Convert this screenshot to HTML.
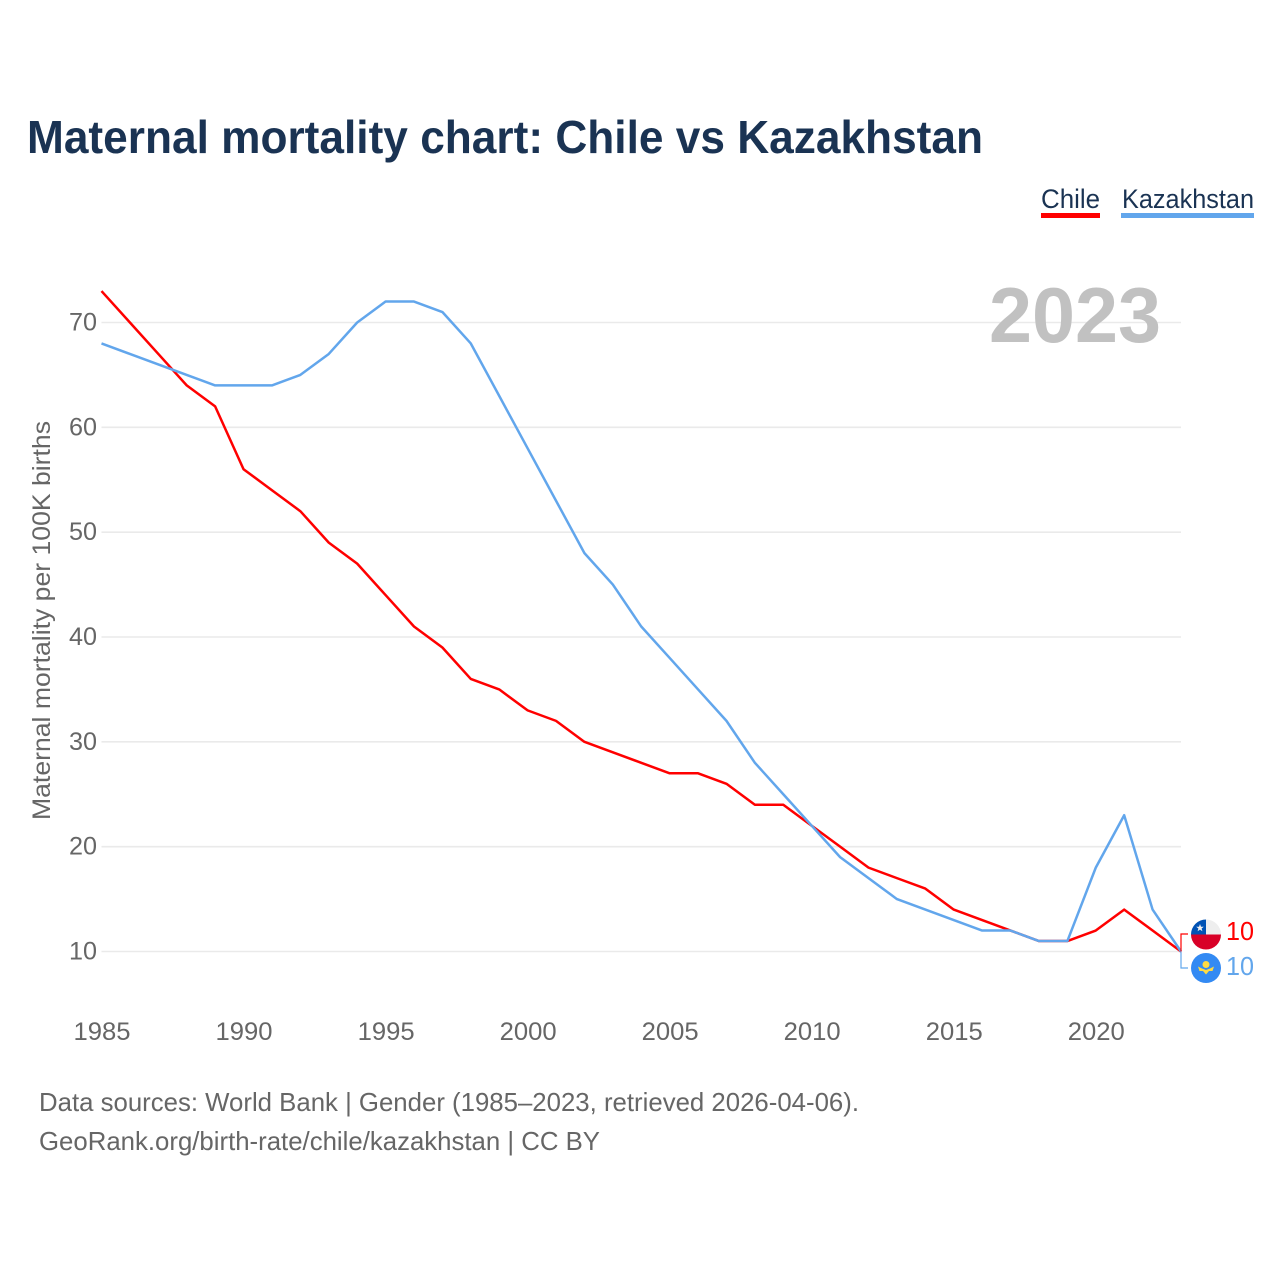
<!DOCTYPE html>
<html lang="en">
<head>
<meta charset="utf-8">
<title>Maternal mortality chart: Chile vs Kazakhstan</title>
<style>
html,body{margin:0;padding:0;background:#fff;}
svg{display:block;font-family:"Liberation Sans",sans-serif;}
</style>
</head>
<body>
<svg id="chart" xmlns="http://www.w3.org/2000/svg" width="1280" height="1280" viewBox="0 0 1280 1280">
  <rect x="0" y="0" width="1280" height="1280" fill="#fff"/>
  <text x="27" y="153" font-size="46" font-weight="700" fill="#1a3353" textLength="956" lengthAdjust="spacingAndGlyphs">Maternal mortality chart: Chile vs Kazakhstan</text>

  <g>
    <g>
      <text x="1041" y="208" font-size="27" fill="#1a3353" textLength="59" lengthAdjust="spacingAndGlyphs">Chile</text>
      <rect x="1041" y="213" width="59" height="5" fill="#ff0000"/>
    </g>
    <g>
      <text x="1122" y="208" font-size="27" fill="#1a3353" textLength="132" lengthAdjust="spacingAndGlyphs">Kazakhstan</text>
      <rect x="1121" y="213" width="133" height="5" fill="#62a6ec"/>
    </g>
  </g>

  <g id="grid"></g>
  <g id="yticks"></g>
  <g id="xticks"></g>

  <text transform="translate(50,620.5) rotate(-90)" text-anchor="middle" font-size="25" fill="#666" textLength="399" lengthAdjust="spacingAndGlyphs">Maternal mortality per 100K births</text>

  <text x="989" y="342" font-size="78" font-weight="700" fill="#c1c1c1" textLength="172" lengthAdjust="spacingAndGlyphs">2023</text>

  <g id="series"></g>
  <g id="connectors"></g>

  <defs>
    <clipPath id="chile-clip"><circle cx="1206" cy="934.5" r="15"/></clipPath>
  </defs>
  <g clip-path="url(#chile-clip)">
    <rect x="1191" y="919" width="30" height="15.5" fill="#eeeeee"/>
    <rect x="1191" y="934.5" width="30" height="15.5" fill="#d80027"/>
    <rect x="1191" y="919" width="15" height="15.5" fill="#0052b4"/>
    <polygon points="1200,924 1201,926.7 1203.8,926.8 1201.6,928.5 1202.4,931.2 1200,929.6 1197.6,931.2 1198.4,928.5 1196.2,926.8 1199,926.7" fill="#f0f0f0"/>
  </g>
  <text x="1226" y="940" font-size="26" fill="#ff0000" textLength="28" lengthAdjust="spacingAndGlyphs">10</text>

  <g>
    <circle cx="1206" cy="968" r="15" fill="#338af3"/>
    <circle cx="1206" cy="964.5" r="3.5" fill="#ffda44"/>
    <path d="M1198 966.5 L1202 968.5 L1206 970 L1210 968.5 L1214 966.5 L1212.5 971 L1209 971 L1206 974.5 L1203 971 L1199.5 971 Z" fill="#ffda44"/>
  </g>
  <text x="1226" y="975" font-size="26" fill="#62a6ec" textLength="28" lengthAdjust="spacingAndGlyphs">10</text>

  <text x="39" y="1111" font-size="26" fill="#666" textLength="820" lengthAdjust="spacingAndGlyphs">Data sources: World Bank | Gender (1985–2023, retrieved 2026-04-06).</text>
  <text x="39" y="1150" font-size="26" fill="#666" textLength="561" lengthAdjust="spacingAndGlyphs">GeoRank.org/birth-rate/chile/kazakhstan | CC BY</text>
</svg>
<script>
const years = [1985,1986,1987,1988,1989,1990,1991,1992,1993,1994,1995,1996,1997,1998,1999,2000,2001,2002,2003,2004,2005,2006,2007,2008,2009,2010,2011,2012,2013,2014,2015,2016,2017,2018,2019,2020,2021,2022,2023];
const chileValues = [73,70,67,64,62,56,54,52,49,47,44,41,39,36,35,33,32,30,29,28,27,27,26,24,24,22,20,18,17,16,14,13,12,11,11,12,14,12,10];
const kazakhstanValues = [68,67,66,65,64,64,64,65,67,70,72,72,71,68,63,58,53,48,45,41,38,35,32,28,25,22,19,17,15,14,13,12,12,11,11,18,23,14,10];
const xTickLabels = [1985,1990,1995,2000,2005,2010,2015,2020];
const yTickLabels = [10,20,30,40,50,60,70];

const NS = 'http://www.w3.org/2000/svg';
const xScale = function (v) { return 101.5 + (v - 1985) * (1181 - 101.5) / 38; };
const yScale = function (v) { return 951.5 - (v - 10) * (951.5 - 322.5) / 60; };

const grid = document.getElementById('grid');
const yticks = document.getElementById('yticks');
const xticks = document.getElementById('xticks');
const series = document.getElementById('series');
const connectors = document.getElementById('connectors');

yTickLabels.forEach(function (t) {
  const line = document.createElementNS(NS, 'line');
  
  
  line.setAttribute('x1', 101.5);
  line.setAttribute('x2', 1181);
  line.setAttribute('y1', yScale(t));
  line.setAttribute('y2', yScale(t));
  line.setAttribute('stroke', '#eaeaea');
  line.setAttribute('stroke-width', '1.6');
  grid.appendChild(line);

  const label = document.createElementNS(NS, 'text');
  
  
  label.setAttribute('x', 97);
  label.setAttribute('y', yScale(t) + 8);
  label.setAttribute('text-anchor', 'end');
  label.setAttribute('font-size', '25');
  label.setAttribute('fill', '#666');
  label.setAttribute('textLength', '28');
  label.setAttribute('lengthAdjust', 'spacingAndGlyphs');
  label.textContent = t;
  yticks.appendChild(label);
});

xTickLabels.forEach(function (t) {
  const label = document.createElementNS(NS, 'text');
  
  
  label.setAttribute('x', xScale(t) - 28);
  label.setAttribute('y', 1040);
  label.setAttribute('font-size', '25');
  label.setAttribute('fill', '#666');
  label.setAttribute('textLength', '57');
  label.setAttribute('lengthAdjust', 'spacingAndGlyphs');
  label.textContent = t;
  xticks.appendChild(label);
});

function linePoints(values) {
  return values.map(function (v, i) {
    return xScale(years[i]).toFixed(2) + ',' + yScale(v).toFixed(2);
  }).join(' ');
}

const chileLine = document.createElementNS(NS, 'polyline');


chileLine.setAttribute('points', linePoints(chileValues));
chileLine.setAttribute('fill', 'none');
chileLine.setAttribute('stroke', '#ff0000');
chileLine.setAttribute('stroke-width', '2.5');
chileLine.setAttribute('stroke-linejoin', 'round');
series.appendChild(chileLine);

const kazakhstanLine = document.createElementNS(NS, 'polyline');


kazakhstanLine.setAttribute('points', linePoints(kazakhstanValues));
kazakhstanLine.setAttribute('fill', 'none');
kazakhstanLine.setAttribute('stroke', '#62a6ec');
kazakhstanLine.setAttribute('stroke-width', '2.5');
kazakhstanLine.setAttribute('stroke-linejoin', 'round');
series.appendChild(kazakhstanLine);

const chileConnector = document.createElementNS(NS, 'polyline');


chileConnector.setAttribute('points', '1181,' + yScale(chileValues[chileValues.length - 1]) + ' 1181,934 1188,934');
chileConnector.setAttribute('fill', 'none');
chileConnector.setAttribute('stroke', '#ff0000');
chileConnector.setAttribute('stroke-width', '1.2');
connectors.appendChild(chileConnector);

const kazakhstanConnector = document.createElementNS(NS, 'polyline');


kazakhstanConnector.setAttribute('points', '1181,' + yScale(kazakhstanValues[kazakhstanValues.length - 1]) + ' 1181,968 1188,968');
kazakhstanConnector.setAttribute('fill', 'none');
kazakhstanConnector.setAttribute('stroke', '#62a6ec');
kazakhstanConnector.setAttribute('stroke-width', '1.2');
connectors.appendChild(kazakhstanConnector);
</script>
</body>
</html>
